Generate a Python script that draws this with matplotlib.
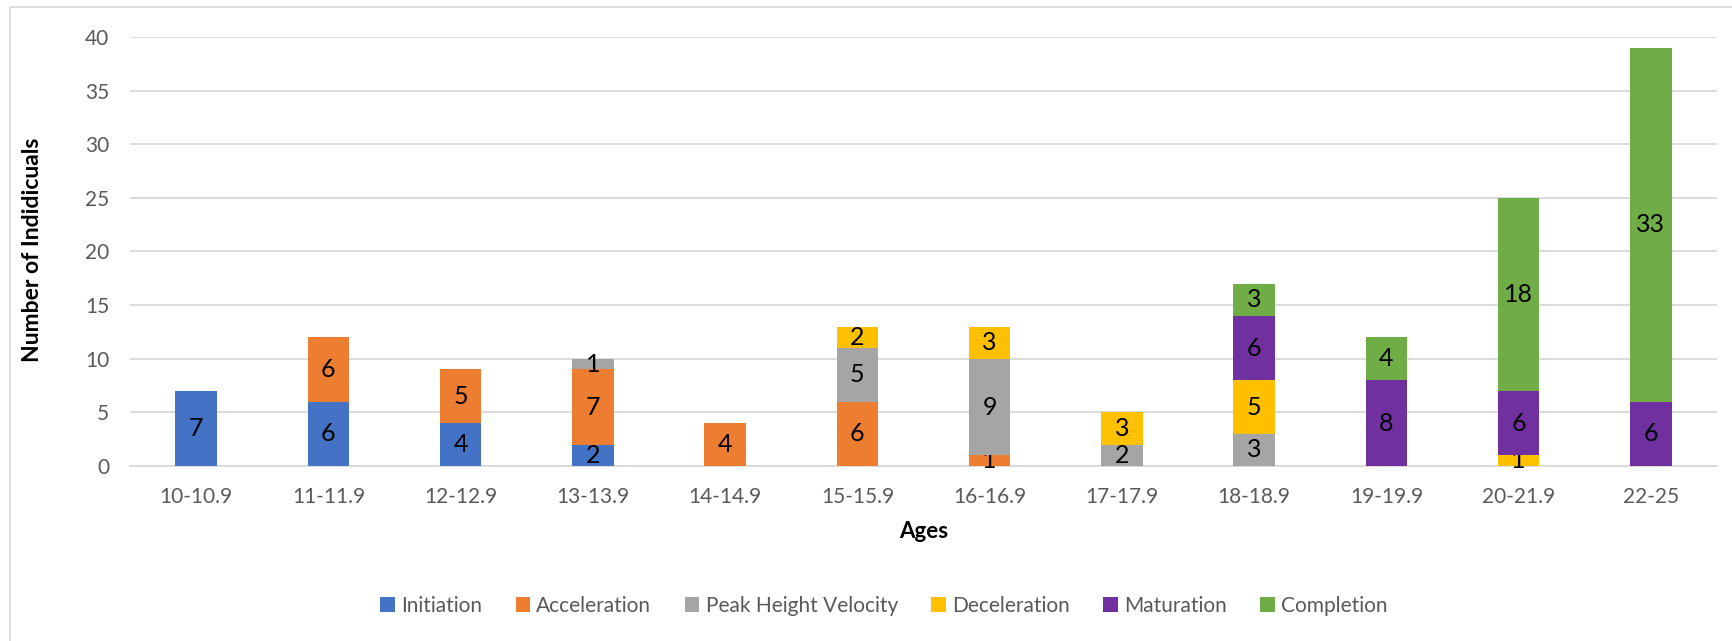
import matplotlib.pyplot as plt
import numpy as np
from matplotlib.patches import Rectangle

plt.rcParams['font.family'] = ['Lato', 'DejaVu Sans']

ages = ["10-10.9", "11-11.9", "12-12.9", "13-13.9", "14-14.9", "15-15.9",
        "16-16.9", "17-17.9", "18-18.9", "19-19.9", "20-21.9", "22-25"]

initiation   = [7, 6, 4, 2, 0, 0, 0, 0, 0, 0, 0, 0]
acceleration = [0, 6, 5, 7, 4, 6, 1, 0, 0, 0, 0, 0]
peak_hv      = [0, 0, 0, 1, 0, 5, 9, 2, 3, 0, 0, 0]
deceleration = [0, 0, 0, 0, 0, 2, 3, 3, 5, 0, 1, 0]
maturation   = [0, 0, 0, 0, 0, 0, 0, 0, 6, 8, 6, 6]
completion   = [0, 0, 0, 0, 0, 0, 0, 0, 3, 4, 18, 33]

series = [
    ("Initiation", initiation, "#4472c4"),
    ("Acceleration", acceleration, "#ed7d31"),
    ("Peak Height Velocity", peak_hv, "#a5a5a5"),
    ("Deceleration", deceleration, "#ffc000"),
    ("Maturation", maturation, "#7030a0"),
    ("Completion", completion, "#70ad47"),
]

fig = plt.figure(figsize=(17.33, 6.41), dpi=100)
# outer chart frame
fig.patches.append(Rectangle((10 / 1733, -0.01), 1.0, 1 - 7 / 641 + 0.01,
                             transform=fig.transFigure, fill=False,
                             edgecolor="#d9d9d9", linewidth=1.2))

ax = fig.add_axes([130 / 1733, 1 - 466 / 641, (1717 - 130) / 1733, (466 - 37) / 641])

x = np.arange(len(ages))
bottom = np.zeros(len(ages))
for name, vals, col in series:
    vals = np.array(vals, dtype=float)
    bars = ax.bar(x, vals, 0.315, bottom=bottom, color=col, label=name, zorder=3)
    labels = [str(int(v)) if v > 0 else "" for v in vals]
    ax.bar_label(bars, labels=labels, label_type="center", fontsize=18, color="black")
    bottom += vals

ax.set_xlim(-0.5, len(ages) - 0.5)
ax.set_ylim(0, 40)
ax.set_yticks(range(0, 41, 5))
ax.set_xticks(x)
ax.set_xticklabels(ages)
ax.tick_params(axis="both", length=0, labelsize=15, labelcolor="#595959")
ax.tick_params(axis="x", pad=15)
ax.tick_params(axis="y", pad=15)
ax.grid(axis="y", color="#d9d9d9", linewidth=1.3, zorder=0)
for s in ["top", "right", "left"]:
    ax.spines[s].set_visible(False)
ax.spines["bottom"].set_color("#d9d9d9")
ax.spines["bottom"].set_linewidth(1.3)

ax.set_xlabel("Ages", fontsize=16, fontweight="bold", labelpad=10)
fig.text(33 / 1733, 1 - 250 / 641, "Number of Indidicuals", rotation=90,
         fontsize=16.5, fontweight="bold", ha="center", va="center")

fig.legend(loc="center", bbox_to_anchor=(0.51, 1 - 606 / 641), ncol=6,
           frameon=False, fontsize=15, labelcolor="#595959",
           handlelength=0.7, handleheight=0.7, handletextpad=0.3, columnspacing=1.6)

fig.savefig("out.png", dpi=100)
